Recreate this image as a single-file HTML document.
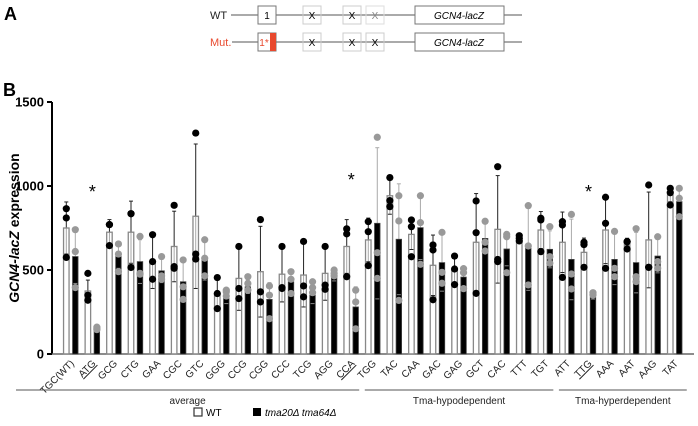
<!DOCTYPE html>
<html><head><meta charset="utf-8"><style>
body{margin:0;background:#fff;}
svg{display:block;font-family:"Liberation Sans",sans-serif;}
</style></head><body>
<svg width="698" height="426" viewBox="0 0 698 426">
<g>
<text x="4" y="20" font-size="18" font-weight="bold">A</text>
<text x="210" y="19" font-size="11" fill="#222">WT</text>
<line x1="231" y1="15" x2="522" y2="15" stroke="#555"/>
<rect x="258" y="6" width="18" height="18" fill="#fff" stroke="#777"/>
<text x="267" y="19" font-size="10" text-anchor="middle">1</text>
<rect x="303" y="6" width="18" height="18" fill="none" stroke="#ccc"/>
<text x="312" y="19" font-size="10" text-anchor="middle">X</text>
<rect x="343" y="6" width="18" height="18" fill="none" stroke="#ccc"/>
<text x="352" y="19" font-size="10" text-anchor="middle">X</text>
<rect x="366" y="6" width="18" height="18" fill="none" stroke="#ddd"/>
<text x="375" y="19" font-size="10" text-anchor="middle" fill="#888">X</text>
<rect x="415" y="6" width="89" height="18" fill="#fff" stroke="#777"/>
<text x="459" y="19" font-size="10" font-style="italic" text-anchor="middle">GCN4-lacZ</text>
<text x="210" y="46" font-size="11" fill="#e8492e">Mut.</text>
<line x1="232" y1="42" x2="522" y2="42" stroke="#555"/>
<rect x="258" y="33" width="18" height="18" fill="#fff" stroke="#777"/>
<rect x="270" y="33" width="6" height="18" fill="#e8492e"/>
<text x="264" y="46" font-size="10" text-anchor="middle" fill="#e8492e">1*</text>
<rect x="303" y="33" width="18" height="18" fill="none" stroke="#ccc"/>
<text x="312" y="46" font-size="10" text-anchor="middle">X</text>
<rect x="343" y="33" width="18" height="18" fill="none" stroke="#ccc"/>
<text x="352" y="46" font-size="10" text-anchor="middle">X</text>
<rect x="366" y="33" width="18" height="18" fill="none" stroke="#ccc"/>
<text x="375" y="46" font-size="10" text-anchor="middle">X</text>
<rect x="415" y="33" width="89" height="18" fill="#fff" stroke="#777"/>
<text x="459" y="46" font-size="10" font-style="italic" text-anchor="middle">GCN4-lacZ</text>
</g>
<text x="3" y="96" font-size="18" font-weight="bold">B</text>
<text transform="translate(19,228) rotate(-90)" font-size="14" font-weight="bold" text-anchor="middle"><tspan font-style="italic">GCN4-lacZ</tspan> expression</text>
<g id="chart"></g>
<g>
<rect x="194" y="408" width="8" height="8" fill="#fff" stroke="#333" stroke-width="1.2"/>
<text x="206" y="416" font-size="10">WT</text>
<rect x="253" y="408" width="8" height="8" fill="#000"/>
<text x="265" y="416" font-size="10" font-style="italic">tma20Δ tma64Δ</text>
</g>
</svg>
<script>
const categories=["TGC(WT)","ATG","GCG","CTG","GAA","CGC","GTC","GGG","CCG","CGG","CCC","TCG","AGG","CCA","TGG","TAC","CAA","GAC","GAG","GCT","CAC","TTT","TGT","ATT","TTG","AAA","AAT","AAG","TAT"];
const underlined=["ATG","CCA","TTG"];
const wtMean=[750,375,725,725,550,640,820,360,450,490,475,470,480,640,679,942,712,528,494,665,742,688,738,665,605,738,669,679,946];
const wtErr=[155,65,75,185,160,210,430,90,190,270,165,190,160,160,130,110,90,180,90,290,320,20,110,180,85,200,20,285,40];
const wtPoints=[[865,810,575],[480,350,320],[770,770,645],[835,835,515],[710,550,445],[885,520,510],[1315,595,565],[455,360,270],[640,390,330],[800,370,310],[640,395,390],[670,405,340],[640,410,385],[745,715,460],[788,728,526],[1050,913,877],[798,758,579],[649,619,323],[583,506,413],[911,722,361],[1115,563,550],[704,690,673],[808,798,609],[788,768,456],[665,651,516],[933,778,510],[669,669,625],[1006,516,516],[986,960,887]];
const mutMean=[580,140,580,550,495,430,560,330,400,325,430,350,460,280,778,683,752,544,458,688,625,629,623,563,337,563,544,583,907];
const mutErr=[160,10,70,130,70,120,120,30,40,100,70,50,25,120,450,330,190,170,60,90,100,250,110,240,10,150,180,100,80];
const mutPoints=[[740,610,395],[160,150,145],[655,595,490],[700,480,475],[580,465,445],[560,400,325],[680,570,465],[380,370,345],[460,420,380],[405,350,210],[490,445,360],[430,395,365],[500,480,465],[380,310,150],[1290,603,450],[942,792,319],[942,782,534],[724,486,421],[508,484,389],[790,665,613],[712,698,484],[883,643,411],[758,579,540],[831,476,387],[365,355,351],[730,510,460],[746,460,431],[698,550,510],[986,927,817]];
const yTicks=[0,500,1000,1500];
const groups=[{label:"average",from:0,to:13},{label:"Tma-hypodependent",from:14,to:22},{label:"Tma-hyperdependent",from:23,to:28}];
const starred=["ATG","CCA","TTG"];
const starValue=[1000,1070,1000];

const NS="http://www.w3.org/2000/svg";
const g=document.getElementById('chart');
const x0=52,y0=354,yTop=102,yMax=1500;
function y(v){return y0-(v/yMax)*(y0-yTop);}
function xg(i){return 70.8+i*21.57;}
function mk(t,a,p){const e=document.createElementNS(NS,t);for(const k in a)e.setAttribute(k,a[k]);(p||g).appendChild(e);return e;}

let ya=mk('line',{x1:x0,y1:yTop,x2:x0,y2:y0,stroke:'#000','stroke-width':2});


let xa=mk('line',{x1:x0,y1:y0,x2:694,y2:y0,stroke:'#666','stroke-width':1.5});


yTicks.forEach(v=>{
  let t=mk('line',{x1:x0-5,y1:y(v),x2:x0,y2:y(v),stroke:'#000','stroke-width':2});
  
  
  let l=mk('text',{x:x0-8,y:y(v)+4.5,'font-size':13,'font-weight':'bold','text-anchor':'end'});
  l.textContent=v;
  
  
});

categories.forEach((c,i)=>{
  const xw=xg(i)-4.5,xm=xg(i)+4.5,bw=5.5;
  let e1=mk('line',{x1:xw,y1:y(wtMean[i]+wtErr[i]),x2:xw,y2:y(Math.max(0,wtMean[i]-wtErr[i])),stroke:'#222','stroke-width':1});
  
  
  mk('line',{x1:xw-2,y1:y(wtMean[i]+wtErr[i]),x2:xw+2,y2:y(wtMean[i]+wtErr[i]),stroke:'#222','stroke-width':1});
  let b1=mk('rect',{x:xw-bw/2,y:y(wtMean[i]),width:bw,height:y0-y(wtMean[i]),fill:'#fff','fill-opacity':0.6,stroke:'#888','stroke-width':1.3});
  
  
  mk('line',{x1:xw-2,y1:y(wtMean[i]-wtErr[i]),x2:xw+2,y2:y(wtMean[i]-wtErr[i]),stroke:'#222','stroke-width':1});
  wtPoints[i].forEach(v=>{
    let p=mk('circle',{cx:xw,cy:y(v),r:3.6,fill:'#000'});
    
    
  });
  let e2=mk('line',{x1:xm,y1:y(mutMean[i]+mutErr[i]),x2:xm,y2:y(Math.max(0,mutMean[i]-mutErr[i])),stroke:'#aaa','stroke-width':1});
  
  
  mk('line',{x1:xm-2,y1:y(mutMean[i]+mutErr[i]),x2:xm+2,y2:y(mutMean[i]+mutErr[i]),stroke:'#aaa','stroke-width':1});
  let b2=mk('rect',{x:xm-bw/2,y:y(mutMean[i]),width:bw,height:y0-y(mutMean[i]),fill:'#000',stroke:'#444','stroke-width':0.8});
  
  
  mk('line',{x1:xm-2,y1:y(mutMean[i]-mutErr[i]),x2:xm+2,y2:y(mutMean[i]-mutErr[i]),stroke:'#888','stroke-width':1});
  mutPoints[i].forEach(v=>{
    let p=mk('circle',{cx:xm,cy:y(v),r:3.6,fill:'#999'});
    
    
  });
  let t=mk('text',{x:xg(i)+4,y:364,'font-size':10,fill:'#222','text-anchor':'end',transform:`rotate(-45 ${xg(i)+4} 364)`});
  t.textContent=c;
  if(underlined.includes(c))t.setAttribute('text-decoration','underline');
  
  
});

starred.forEach((c,k)=>{
  const i=categories.indexOf(c);
  let s=mk('text',{x:xg(i),y:y(starValue[k])+12,'font-size':18,'text-anchor':'middle'});
  s.textContent='*';
  
  
});

groups.forEach(gr=>{
  const a=xg(gr.from)-12,b=xg(gr.to)+(gr.to===28?12:8);
  let l=mk('line',{x1:gr.from===0?16:a+4,y1:390,x2:b,y2:390,stroke:'#555','stroke-width':1});
  
  
  let t=mk('text',{x:((gr.from===0?16:a+4)+b)/2,y:404,'font-size':10,'text-anchor':'middle',fill:'#222'});
  t.textContent=gr.label;
  
  
});
</script>
</body></html>
